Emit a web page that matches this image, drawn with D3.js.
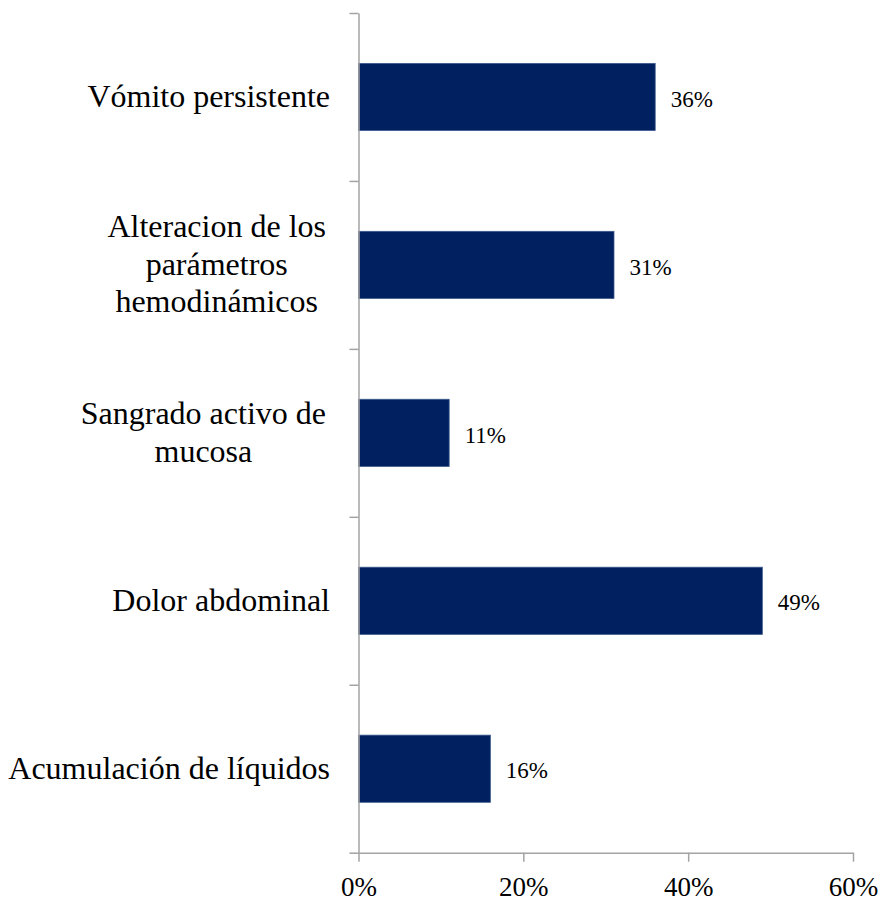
<!DOCTYPE html>
<html>
<head>
<meta charset="utf-8">
<script src="https://cdn.jsdelivr.net/npm/d3@7/dist/d3.min.js"></script>
<style>
  html, body { margin: 0; padding: 0; background: #ffffff; }
  svg { display: block; }
  svg text { font-family: "Liberation Serif"; }
</style>
</head>
<body>
<svg id="chart" width="882" height="901"></svg>
<script>
// Categories (top to bottom), each split into its display lines
const categories = [
  "Vómito persistente",
  "Alteracion de los parámetros hemodinámicos",
  "Sangrado activo de mucosa",
  "Dolor abdominal",
  "Acumulación de líquidos"
];
const categoryLines = [
  ["Vómito persistente"],
  ["Alteracion de los", "parámetros", "hemodinámicos"],
  ["Sangrado activo de", "mucosa"],
  ["Dolor abdominal"],
  ["Acumulación de líquidos"]
];
// Share of patients per warning sign
const values = [0.36, 0.31, 0.11, 0.49, 0.16];
// X axis ticks
const xTicks = [0, 0.2, 0.4, 0.6];

const FONT = "Liberation Serif";
const AXIS_COLOR = "#a3a3a3";
const BAR_COLOR = "#002060";

const plot = { left: 358.5, right: 853, top: 13, bottom: 852.7 };
const svg = d3.select("#chart");

const x = d3.scaleLinear().domain([0, 0.6]).range([plot.left, plot.right]);
const y = d3.scaleBand()
  .domain(categories)
  .range([plot.top, plot.bottom])
  .paddingInner(0.6)
  .paddingOuter(0.3);

// Bars
svg.append("g").selectAll("rect")
  .data(categories)
  .join("rect")
  .attr("x", x(0))
  .attr("y", d => y(d))
  .attr("width", (d, i) => x(values[i]) - x(0))
  .attr("height", y.bandwidth())
  .attr("fill", BAR_COLOR)
  .attr("stroke", "#3c5a8e")
  .attr("stroke-width", 0.8);

// Value labels
const fmt = d3.format(".0%");
svg.append("g").selectAll("text")
  .data(categories)
  .join("text")
  .attr("x", (d, i) => x(values[i]) + 15.5)
  .attr("y", d => y(d) + y.bandwidth() / 2 + 9.7)
  .attr("font-family", FONT)
  .attr("font-size", 23)
  .attr("fill", "#000")
  .text((d, i) => fmt(values[i]));

// Y axis: line with ticks at the category boundaries
const yEdges = d3.scaleLinear().domain([0, categories.length]).range([plot.top, plot.bottom]);
const yAxisG = svg.append("g")
  .attr("transform", `translate(${plot.left},0)`)
  .call(d3.axisLeft(yEdges).tickValues(d3.range(categories.length + 1)).tickSize(9).tickSizeOuter(0).tickFormat(""));
yAxisG.selectAll("path, line").attr("stroke", AXIS_COLOR).attr("stroke-width", 1.5);

// X axis
const xAxisG = svg.append("g")
  .attr("transform", `translate(0,${plot.bottom})`)
  .call(d3.axisBottom(x).tickValues(xTicks).tickSize(9).tickSizeOuter(0).tickFormat(fmt));
xAxisG.attr("font-family", FONT);
xAxisG.select(".domain").attr("stroke", AXIS_COLOR).attr("stroke-width", 1.5);
xAxisG.selectAll("line").attr("stroke", AXIS_COLOR).attr("stroke-width", 1.5);
xAxisG.selectAll("text")
  .attr("font-family", FONT)
  .attr("font-size", 27)
  .attr("fill", "#000")
  .attr("y", 43.5)
  .attr("dy", null);

// Category labels: lines centred in a block whose right edge sits left of the axis
const labelRight = 330;
const lineGap = 37.5;
const labelG = svg.append("g")
  .attr("font-family", FONT)
  .attr("font-size", 32)
  .attr("fill", "#000");

// width of a space in the label font, used for wrapped lines
const probe = labelG.append("text").text("a a");
const probe2 = labelG.append("text").text("aa");
const spaceW = probe.node().getComputedTextLength() - probe2.node().getComputedTextLength();
probe.remove(); probe2.remove();

categories.forEach((cat, i) => {
  const lines = categoryLines[i];
  const cy = y(cat) + y.bandwidth() / 2;
  const t = labelG.append("text").attr("text-anchor", "middle");
  const spans = lines.map((ln, k) =>
    t.append("tspan")
      .attr("y", cy + 10 - (lines.length - 1) * lineGap / 2 + k * lineGap)
      .text(ln)
  );
  let maxW = 0;
  spans.forEach((s, k) => {
    const w = s.node().getComputedTextLength() + (k < lines.length - 1 ? spaceW : 0);
    maxW = Math.max(maxW, w);
  });
  const cx = labelRight - maxW / 2;
  spans.forEach(s => s.attr("x", cx));
});
</script>
</body>
</html>
